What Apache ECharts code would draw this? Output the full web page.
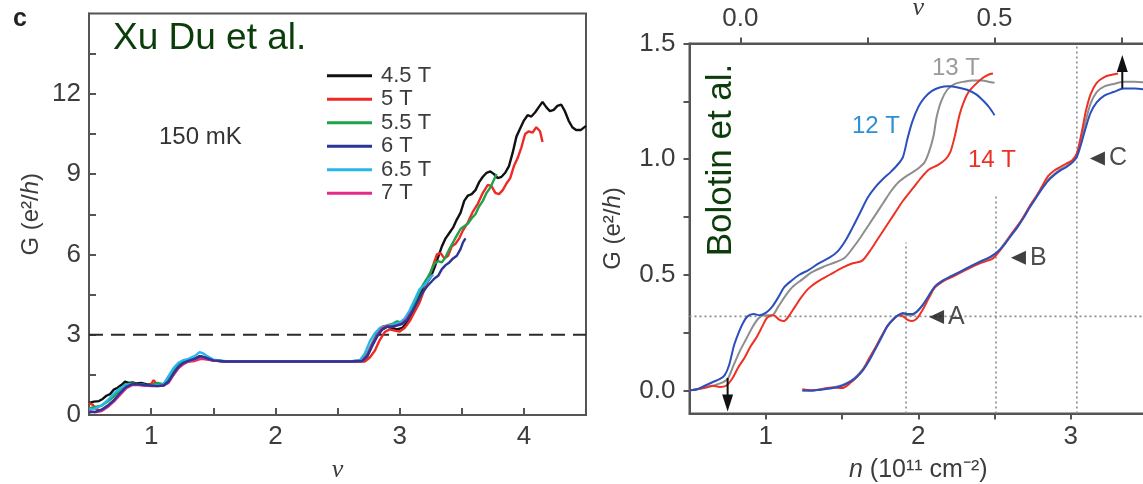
<!DOCTYPE html>
<html><head><meta charset="utf-8">
<script src="https://cdn.jsdelivr.net/npm/echarts@6/dist/echarts.min.js"></script>
<style>html,body{margin:0;padding:0;background:#fff}#c{width:1143px;height:484px}</style>
</head><body><div id="c"></div>
<script>
// ---------- Left panel (Xu Du et al.) : G (e^2/h) vs nu ----------
const leftNames = ['4.5 T','5 T','5.5 T','6 T','6.5 T','7 T'];
const leftColors = ['#111111','#ee2a24','#1fa24a','#2a3595','#27b6ee','#e62a8c'];
const du45 = [[0.5,0.45],[0.54,0.5],[0.58,0.52],[0.61,0.6],[0.64,0.72],[0.67,0.78],[0.7,0.95],[0.73,1.02],[0.76,1.12],[0.79,1.25],[0.82,1.2],[0.85,1.22],[0.88,1.18],[0.92,1.2],[0.96,1.15],[1.0,1.14],[1.05,1.12],[1.1,1.15],[1.14,1.35],[1.18,1.65],[1.22,1.88],[1.26,2.0],[1.3,2.05],[1.35,2.1],[1.39,2.2],[1.43,2.15],[1.47,2.08],[1.52,2.03],[1.6,2.0],[1.8,2.0],[2.0,2.0],[2.2,2.0],[2.4,2.0],[2.6,2.0],[2.7,2.02],[2.74,2.2],[2.78,2.6],[2.82,2.95],[2.86,3.2],[2.9,3.3],[2.94,3.25],[2.98,3.2],[3.02,3.25],[3.06,3.45],[3.1,3.8],[3.14,4.25],[3.18,4.65],[3.22,4.95],[3.25,5.15],[3.28,5.5],[3.31,5.9],[3.34,6.3],[3.37,6.6],[3.4,6.8],[3.43,7.0],[3.46,7.3],[3.49,7.55],[3.52,8.0],[3.55,8.2],[3.58,8.25],[3.61,8.4],[3.64,8.7],[3.67,8.9],[3.7,9.05],[3.73,9.1],[3.76,9.0],[3.79,8.85],[3.82,8.9],[3.85,9.05],[3.88,9.3],[3.91,9.8],[3.94,10.4],[3.97,10.7],[4.0,11.0],[4.03,11.2],[4.06,11.15],[4.09,11.3],[4.12,11.5],[4.15,11.7],[4.18,11.5],[4.21,11.35],[4.24,11.4],[4.27,11.55],[4.3,11.6],[4.33,11.35],[4.36,11.0],[4.39,10.75],[4.42,10.65],[4.46,10.65],[4.5,10.8]];
const du5 = [[0.5,0.45],[0.53,0.38],[0.56,0.22],[0.6,0.15],[0.64,0.28],[0.68,0.45],[0.72,0.65],[0.76,0.85],[0.8,1.05],[0.84,1.15],[0.88,1.15],[0.92,1.12],[0.96,1.1],[1.0,1.15],[1.02,1.3],[1.05,1.12],[1.1,1.1],[1.14,1.25],[1.18,1.5],[1.22,1.75],[1.26,1.9],[1.3,2.0],[1.35,2.02],[1.4,2.1],[1.45,2.08],[1.5,2.03],[1.6,2.0],[1.8,2.0],[2.0,2.0],[2.2,2.0],[2.4,2.0],[2.6,2.0],[2.72,2.0],[2.76,2.15],[2.8,2.4],[2.84,2.8],[2.88,3.1],[2.92,3.2],[2.96,3.15],[3.0,3.12],[3.04,3.25],[3.08,3.5],[3.12,3.85],[3.16,4.2],[3.2,4.7],[3.24,5.2],[3.27,5.6],[3.3,6.0],[3.33,6.05],[3.36,5.85],[3.39,5.95],[3.42,6.3],[3.45,6.4],[3.48,6.6],[3.51,6.9],[3.55,7.2],[3.59,7.6],[3.63,7.9],[3.67,8.3],[3.71,8.6],[3.74,8.55],[3.77,8.3],[3.8,8.25],[3.83,8.4],[3.86,8.65],[3.89,8.85],[3.92,9.3],[3.95,9.6],[3.98,10.0],[4.01,10.5],[4.04,10.6],[4.07,10.55],[4.1,10.75],[4.13,10.6],[4.15,10.2]];
const du55 = [[0.5,0.25],[0.55,0.3],[0.6,0.35],[0.65,0.5],[0.7,0.7],[0.75,0.95],[0.8,1.15],[0.85,1.18],[0.9,1.15],[0.95,1.12],[1.0,1.1],[1.05,1.2],[1.1,1.15],[1.14,1.35],[1.18,1.65],[1.22,1.85],[1.26,1.98],[1.3,2.05],[1.35,2.1],[1.4,2.18],[1.45,2.12],[1.5,2.05],[1.6,2.0],[1.8,2.0],[2.0,2.0],[2.2,2.0],[2.4,2.0],[2.6,2.0],[2.7,2.05],[2.74,2.3],[2.78,2.7],[2.82,3.05],[2.86,3.3],[2.9,3.35],[2.94,3.4],[2.98,3.5],[3.02,3.45],[3.06,3.6],[3.1,3.95],[3.14,4.4],[3.18,4.8],[3.22,5.1],[3.25,5.35],[3.28,5.65],[3.31,5.75],[3.34,5.7],[3.37,5.9],[3.4,6.2],[3.43,6.45],[3.46,6.7],[3.49,6.95],[3.52,7.05],[3.55,7.15],[3.58,7.35],[3.61,7.5],[3.64,7.8],[3.67,8.0],[3.7,8.3],[3.73,8.5],[3.76,8.8],[3.78,9.0]];
const du6 = [[0.5,0.1],[0.55,0.12],[0.6,0.2],[0.65,0.35],[0.7,0.55],[0.75,0.82],[0.8,1.05],[0.85,1.15],[0.9,1.15],[0.95,1.12],[1.0,1.1],[1.05,1.08],[1.1,1.1],[1.14,1.25],[1.18,1.55],[1.22,1.8],[1.26,1.95],[1.3,2.02],[1.35,2.1],[1.4,2.2],[1.45,2.12],[1.5,2.04],[1.6,2.0],[1.8,2.0],[2.0,2.0],[2.2,2.0],[2.4,2.0],[2.6,2.0],[2.7,2.02],[2.74,2.2],[2.78,2.6],[2.82,2.95],[2.86,3.2],[2.9,3.3],[2.94,3.3],[2.98,3.35],[3.02,3.4],[3.06,3.55],[3.1,3.85],[3.14,4.2],[3.18,4.55],[3.22,4.8],[3.25,4.95],[3.28,5.1],[3.31,5.2],[3.34,5.45],[3.37,5.6],[3.4,5.7],[3.43,5.85],[3.46,5.95],[3.49,6.2],[3.51,6.45],[3.53,6.6]];
const du65 = [[0.5,0.2],[0.55,0.25],[0.6,0.35],[0.65,0.55],[0.7,0.8],[0.75,1.0],[0.8,1.12],[0.85,1.15],[0.9,1.15],[0.95,1.12],[1.0,1.1],[1.05,1.1],[1.1,1.15],[1.14,1.45],[1.18,1.75],[1.22,1.95],[1.26,2.05],[1.3,2.1],[1.35,2.2],[1.39,2.35],[1.42,2.3],[1.45,2.2],[1.5,2.07],[1.6,2.01],[1.8,2.0],[2.0,2.0],[2.2,2.0],[2.4,2.0],[2.6,2.0],[2.68,2.05],[2.72,2.3],[2.76,2.75],[2.8,3.05],[2.84,3.25],[2.88,3.3],[2.92,3.35],[2.96,3.4],[3.0,3.45],[3.04,3.6],[3.08,3.9],[3.12,4.3],[3.16,4.7],[3.2,4.85],[3.24,5.1],[3.27,5.25]];
const du7 = [[0.5,0.15],[0.55,0.1],[0.6,0.15],[0.65,0.3],[0.7,0.5],[0.75,0.75],[0.8,1.0],[0.85,1.12],[0.9,1.12],[0.95,1.1],[1.0,1.08],[1.05,1.08],[1.1,1.1],[1.14,1.2],[1.18,1.5],[1.22,1.75],[1.26,1.92],[1.3,2.0],[1.35,2.05],[1.4,2.12],[1.45,2.08],[1.5,2.03],[1.6,2.0],[1.8,2.0],[2.0,2.0],[2.2,2.0],[2.4,2.0],[2.6,2.0],[2.7,2.03],[2.74,2.25],[2.78,2.65],[2.82,3.0],[2.86,3.25],[2.9,3.32],[2.94,3.3],[2.98,3.35],[3.02,3.42],[3.06,3.6],[3.1,3.9]];
const leftData = [du45, du5, du55, du6, du65, du7];
const leftRefLevel = 3;                       // dashed line
const leftXTicks = [1,1.5,2,2.5,3,3.5,4];
const leftXLabels = [1,2,3,4];
const leftYTicks = [1.5,3,4.5,6,7.5,9,10.5,12,13.5];
const leftYLabels = [0,3,6,9,12];

// ---------- Right panel (Bolotin et al.) : G (e^2/h) vs n ----------
const rightNames = ['12 T','13 T','14 T'];
const rightColors = ['#2b4fbd','#8e8e8e','#ee3124'];
const bol12L = [[0.5,0],[0.55,0.005],[0.6,0.02],[0.65,0.035],[0.7,0.05],[0.73,0.065],[0.76,0.11],[0.79,0.19],[0.82,0.245],[0.85,0.29],[0.88,0.32],[0.92,0.33],[0.96,0.325],[1.0,0.335],[1.04,0.36],[1.08,0.4],[1.12,0.445],[1.17,0.475],[1.22,0.5],[1.28,0.52],[1.35,0.55],[1.42,0.575],[1.47,0.6],[1.52,0.645],[1.57,0.705],[1.62,0.77],[1.67,0.835],[1.72,0.88],[1.77,0.915],[1.82,0.945],[1.87,0.98],[1.9,1.01],[1.93,1.09],[1.96,1.16],[2.0,1.225],[2.04,1.265],[2.09,1.295],[2.14,1.31],[2.2,1.315],[2.26,1.31],[2.32,1.3],[2.38,1.28],[2.43,1.25],[2.47,1.22],[2.5,1.19]];
const bol13L = [[0.5,0],[0.6,0.01],[0.7,0.03],[0.75,0.05],[0.79,0.11],[0.83,0.17],[0.87,0.22],[0.91,0.27],[0.95,0.31],[0.99,0.325],[1.04,0.325],[1.08,0.36],[1.13,0.41],[1.18,0.45],[1.24,0.48],[1.3,0.51],[1.38,0.535],[1.46,0.555],[1.52,0.575],[1.57,0.615],[1.62,0.66],[1.67,0.71],[1.72,0.76],[1.77,0.81],[1.82,0.86],[1.87,0.9],[1.93,0.93],[1.99,0.955],[2.04,0.985],[2.07,1.03],[2.1,1.1],[2.12,1.18],[2.15,1.25],[2.19,1.3],[2.24,1.325],[2.3,1.335],[2.36,1.34],[2.42,1.34],[2.46,1.335],[2.5,1.33]];
const bol14L = [[0.5,0],[0.55,0.005],[0.6,0.012],[0.65,0.02],[0.7,0.015],[0.74,0.02],[0.78,0.05],[0.82,0.1],[0.86,0.14],[0.9,0.19],[0.94,0.23],[0.98,0.28],[1.01,0.315],[1.05,0.325],[1.09,0.305],[1.12,0.3],[1.15,0.32],[1.19,0.36],[1.23,0.4],[1.28,0.44],[1.34,0.47],[1.42,0.5],[1.5,0.53],[1.57,0.55],[1.63,0.56],[1.68,0.6],[1.73,0.65],[1.78,0.7],[1.84,0.76],[1.9,0.82],[1.96,0.87],[2.02,0.92],[2.07,0.955],[2.13,0.975],[2.18,1.0],[2.21,1.03],[2.24,1.1],[2.27,1.19],[2.3,1.25],[2.33,1.29],[2.37,1.32],[2.42,1.35],[2.46,1.365],[2.49,1.37]];
const bol12R = [[1.24,0],[1.3,0],[1.36,0.003],[1.44,0.01],[1.5,0.02],[1.56,0.04],[1.6,0.06],[1.64,0.09],[1.68,0.13],[1.72,0.18],[1.76,0.23],[1.8,0.28],[1.84,0.31],[1.87,0.325],[1.9,0.335],[1.93,0.33],[1.96,0.33],[1.99,0.34],[2.03,0.37],[2.07,0.41],[2.11,0.45],[2.16,0.475],[2.22,0.495],[2.28,0.515],[2.34,0.535],[2.4,0.555],[2.45,0.57],[2.49,0.585],[2.53,0.605],[2.57,0.635],[2.61,0.67],[2.65,0.705],[2.69,0.745],[2.73,0.79],[2.77,0.83],[2.81,0.87],[2.85,0.905],[2.89,0.93],[2.93,0.95],[2.97,0.965],[3.01,0.985],[3.04,1.01],[3.07,1.07],[3.1,1.14],[3.13,1.2],[3.17,1.245],[3.22,1.275],[3.28,1.29],[3.35,1.305],[3.42,1.305],[3.5,1.3]];
const bol13R = [[1.24,0],[1.3,0],[1.36,0.004],[1.44,0.012],[1.5,0.022],[1.56,0.042],[1.6,0.065],[1.64,0.095],[1.68,0.14],[1.72,0.185],[1.76,0.235],[1.8,0.28],[1.84,0.31],[1.87,0.325],[1.9,0.33],[1.93,0.325],[1.96,0.325],[1.99,0.34],[2.03,0.37],[2.07,0.41],[2.11,0.45],[2.16,0.475],[2.22,0.495],[2.28,0.515],[2.34,0.535],[2.4,0.555],[2.45,0.568],[2.49,0.58],[2.53,0.605],[2.57,0.64],[2.61,0.675],[2.65,0.71],[2.69,0.75],[2.73,0.795],[2.77,0.835],[2.81,0.875],[2.85,0.91],[2.89,0.935],[2.93,0.955],[2.97,0.97],[3.01,0.99],[3.04,1.02],[3.07,1.09],[3.1,1.17],[3.13,1.24],[3.17,1.29],[3.22,1.315],[3.28,1.325],[3.35,1.335],[3.42,1.335],[3.5,1.33]];
const bol14R = [[1.24,0.005],[1.3,0],[1.36,0.005],[1.44,0.012],[1.5,0.01],[1.56,0.035],[1.6,0.06],[1.64,0.09],[1.68,0.14],[1.72,0.185],[1.76,0.235],[1.8,0.28],[1.84,0.31],[1.87,0.325],[1.9,0.32],[1.93,0.305],[1.96,0.3],[1.99,0.31],[2.03,0.35],[2.07,0.4],[2.11,0.445],[2.16,0.47],[2.22,0.49],[2.28,0.51],[2.34,0.53],[2.4,0.548],[2.45,0.56],[2.49,0.57],[2.53,0.6],[2.57,0.635],[2.61,0.675],[2.65,0.71],[2.69,0.75],[2.73,0.795],[2.77,0.835],[2.81,0.88],[2.85,0.925],[2.89,0.95],[2.93,0.965],[2.97,0.98],[3.01,0.995],[3.04,1.025],[3.07,1.11],[3.1,1.21],[3.13,1.28],[3.17,1.33],[3.22,1.355],[3.27,1.365],[3.31,1.37]];
const plateauG = 0.32;                         // horizontal dotted line
const markerN = [1.92, 2.51, 3.04];            // vertical dotted lines
const markerTop = [0.64, 0.85, 1.5];
const annotLetters = ['A','B','C'];
const annotN = [2.12, 2.657, 3.175];
const annotG = [0.317, 0.573, 1.003];
const arrowDown = {n: 0.75, from: 0.054, head: -0.055};
const arrowUp = {n: 3.338, from: 1.306, head: 1.414};
const rightXTicks = [1,1.5,2,2.5,3];
const rightXLabels = [1,2,3];
const rightYTicks = [0,0.25,0.5,0.75,1,1.25,1.5];
const rightYLabels = [0,0.5,1,1.5];
const nuTopTicks = [0,0.25,0.5,0.75];
const nuTopLabels = [0,0.5];

const FONT = 'Liberation Sans';
const AX = '#555';
const TXT = '#3c3c3c';

const chart = echarts.init(document.getElementById('c'), null, {renderer:'canvas'});

const series = [];
leftData.forEach((d, i) => {
  series.push({name:leftNames[i], type:'line', xAxisIndex:0, yAxisIndex:0, data:d,
    showSymbol:false, symbol:'none', lineStyle:{color:leftColors[i], width:2.4},
    itemStyle:{color:leftColors[i]}, z: 3 + (i===3 ? 3 : i===0 ? 0 : 1)});
});
series.push({name:'ref', type:'line', xAxisIndex:0, yAxisIndex:0, data:[[0.5,leftRefLevel],[4.5,leftRefLevel]],
  showSymbol:false, symbol:'none', lineStyle:{color:'#2a2a2a', width:2, type:[14,8]}, z:2});

// dotted guide lines
series.push({type:'line', xAxisIndex:1, yAxisIndex:1, data:[[0.5,plateauG],[3.5,plateauG]],
  showSymbol:false, symbol:'none', lineStyle:{color:'#8a8a8a', width:1.6, type:[2,3]}, z:1});
markerN.forEach((n,i) => {
  series.push({type:'line', xAxisIndex:1, yAxisIndex:1, data:[[n,-0.1],[n,markerTop[i]]],
    showSymbol:false, symbol:'none', lineStyle:{color:'#8a8a8a', width:1.6, type:[2,3]}, z:1});
});
const rightOrder = [[1,bol13L],[2,bol14L],[0,bol12L],[1,bol13R],[2,bol14R],[0,bol12R]];
rightOrder.forEach(([ci,d]) => {
  series.push({name:rightNames[ci], type:'line', xAxisIndex:1, yAxisIndex:1, data:d, smooth:0.3,
    showSymbol:false, symbol:'none', lineStyle:{color:rightColors[ci], width:2}, z:3});
});
// arrows
[[arrowDown,180],[arrowUp,0]].forEach(([a,rot]) => {
  series.push({type:'line', xAxisIndex:1, yAxisIndex:1,
    data:[{value:[a.n,a.from], symbol:'none'}, {value:[a.n,a.head], symbol:'triangle', symbolSize:[11,17], symbolRotate:rot}],
    showSymbol:true, lineStyle:{color:'#111', width:2}, itemStyle:{color:'#111'}, z:6});
});
// A, B, C markers
series.push({type:'scatter', xAxisIndex:1, yAxisIndex:1,
  data: annotN.map((n,i) => ({value:[n, annotG[i]], name:annotLetters[i]})),
  symbol:'triangle', symbolRotate:90, symbolSize:[14,15], itemStyle:{color:'#111'},
  label:{show:true, position:'right', distance:4, formatter:p=>p.name, fontSize:25, color:'#222', fontFamily:FONT}, z:6});

const tickLabelStyle = {fontSize:26, color:TXT, fontFamily:FONT};
const noZero = {show:true, onZero:false, lineStyle:{color:AX, width:2}};

const option = {
  animation:false,
  backgroundColor:'#ffffff',
  grid:[
    {left:89, top:13.5, width:497, height:401.5, show:true, borderColor:AX, borderWidth:2, containLabel:false, outerBoundsMode:'none'},
    {left:689.5, top:43.5, width:457.5, height:370, show:true, borderColor:AX, borderWidth:2, containLabel:false, outerBoundsMode:'none'}
  ],
  xAxis:[
    {type:'value', gridIndex:0, min:0.5, max:4.5, position:'bottom',
      axisLine:noZero, splitLine:{show:false},
      axisTick:{show:true, inside:true, length:7, lineStyle:{color:AX, width:2}, customValues:leftXTicks},
      axisLabel:{show:true, customValues:leftXLabels, margin:9, ...tickLabelStyle},
      name:'ν', nameLocation:'middle', nameGap:42, nameMoveOverlap:false,
      nameTextStyle:{fontSize:26, fontStyle:'italic', fontFamily:'Liberation Serif', color:TXT}},
    {type:'value', gridIndex:1, min:0.5, max:3.5, position:'bottom',
      axisLine:noZero, splitLine:{show:false},
      axisTick:{show:true, inside:false, length:6, lineStyle:{color:AX, width:2}, customValues:rightXTicks},
      axisLabel:{show:true, customValues:rightXLabels, margin:10, ...tickLabelStyle},
      name:'{i|n}{r| (10¹¹ cm⁻²)}', nameLocation:'middle', nameGap:44, nameMoveOverlap:false,
      nameTextStyle:{rich:{i:{fontSize:25, fontStyle:'italic', fontFamily:FONT, color:TXT}, r:{fontSize:25, fontFamily:FONT, color:TXT}}}},
    {type:'value', gridIndex:1, min:-0.1, max:0.8, position:'top',
      axisLine:noZero, splitLine:{show:false},
      axisTick:{show:true, inside:false, length:6, lineStyle:{color:AX, width:2}, customValues:nuTopTicks},
      axisLabel:{show:true, customValues:nuTopLabels, margin:12, formatter:v=>v.toFixed(1), ...tickLabelStyle},
      name:'ν', nameLocation:'middle', nameGap:22, nameMoveOverlap:false,
      nameTextStyle:{fontSize:26, fontStyle:'italic', fontFamily:'Liberation Serif', color:TXT}}
  ],
  yAxis:[
    {type:'value', gridIndex:0, min:0, max:15,
      axisLine:noZero, splitLine:{show:false},
      axisTick:{show:true, inside:true, length:7, lineStyle:{color:AX, width:2}, customValues:leftYTicks},
      axisLabel:{show:true, customValues:leftYLabels, margin:8, ...tickLabelStyle},
      name:'{r|G (e²/}{i|h}{r|)}', nameLocation:'middle', nameGap:46, nameRotate:90, nameMoveOverlap:false,
      nameTextStyle:{rich:{i:{fontSize:24, fontStyle:'italic', fontFamily:FONT, color:TXT}, r:{fontSize:24, fontFamily:FONT, color:TXT}}}},
    {type:'value', gridIndex:1, min:-0.1, max:1.5,
      axisLine:noZero, splitLine:{show:false},
      axisTick:{show:true, inside:false, length:6, lineStyle:{color:AX, width:2}, customValues:rightYTicks},
      axisLabel:{show:true, customValues:rightYLabels, margin:14, formatter:v=>v.toFixed(1), ...tickLabelStyle},
      name:'{r|G (e²/}{i|h}{r|)}', nameLocation:'middle', nameGap:64, nameRotate:90, nameMoveOverlap:false,
      nameTextStyle:{rich:{i:{fontSize:24, fontStyle:'italic', fontFamily:FONT, color:TXT}, r:{fontSize:24, fontFamily:FONT, color:TXT}}}}
  ],
  legend:{
    data:leftNames, orient:'vertical', left:327, top:64, padding:0, itemGap:0,
    icon:'rect', itemWidth:45, itemHeight:3,
    textStyle:{fontSize:22, color:TXT, fontFamily:FONT, lineHeight:23.5, padding:[0,0,0,4]}
  },
  graphic:[
    {type:'text', x:13, y:19, z:10, style:{text:'c', font:'bold 25px "Liberation Sans"', fill:'#222', textAlign:'left', textVerticalAlign:'middle'}},
    {type:'text', x:113, y:39, z:10, style:{text:'Xu Du et al.', font:'37px "Liberation Sans"', fill:'#0b3d0b', textAlign:'left', textVerticalAlign:'middle'}},
    {type:'text', x:159, y:137, z:10, style:{text:'150 mK', font:'24px "Liberation Sans"', fill:'#333', textAlign:'left', textVerticalAlign:'middle'}},
    {type:'text', x:721, y:160, rotation:Math.PI/2, z:10, style:{text:'Bolotin et al.', font:'35px "Liberation Sans"', fill:'#0b3d0b', textAlign:'center', textVerticalAlign:'middle', backgroundColor:'#ffffff', padding:[2,4]}},
    {type:'text', x:852, y:126, z:1, style:{text:'12 T', font:'24px "Liberation Sans"', fill:'#2f8fd6', textAlign:'left', textVerticalAlign:'middle'}},
    {type:'text', x:932, y:68, z:1, style:{text:'13 T', font:'24px "Liberation Sans"', fill:'#9a9a9a', textAlign:'left', textVerticalAlign:'middle'}},
    {type:'text', x:968, y:160, z:1, style:{text:'14 T', font:'24px "Liberation Sans"', fill:'#ea3126', textAlign:'left', textVerticalAlign:'middle'}}
  ],
  series: series
};
chart.setOption(option);
</script>
</body></html>
